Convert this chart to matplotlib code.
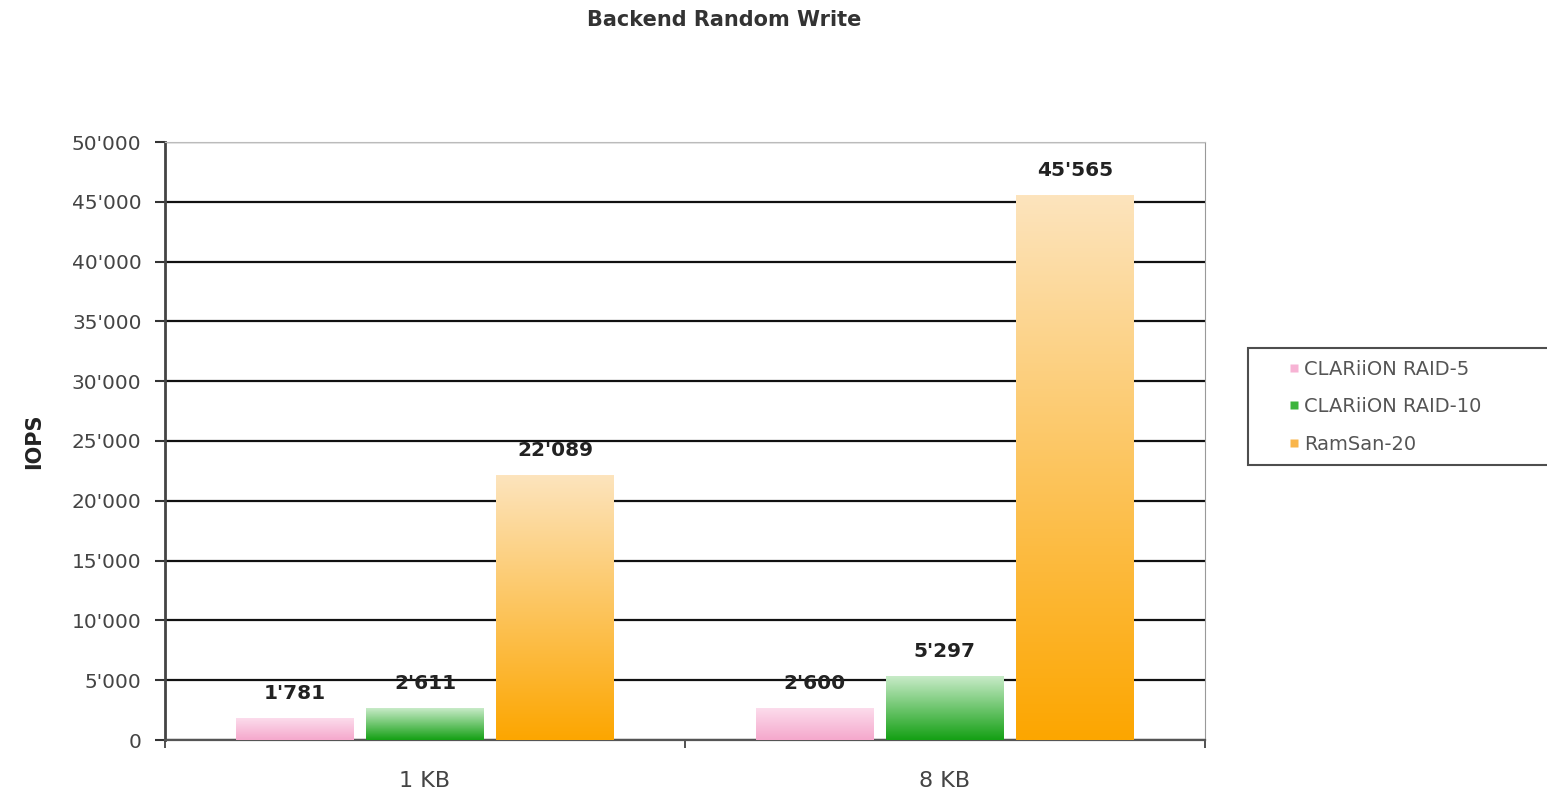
import numpy as np
import matplotlib
matplotlib.use("Agg")
import matplotlib.pyplot as plt
from matplotlib.colors import LinearSegmentedColormap
from matplotlib.lines import Line2D
from matplotlib.ticker import FuncFormatter

categories = ["1 KB", "8 KB"]
series = ["CLARiiON RAID-5", "CLARiiON RAID-10", "RamSan-20"]
raid5 = [1781, 2600]
raid10 = [2611, 5297]
ramsan = [22089, 45565]

# (top colour, bottom colour) of each bar gradient
grads = [("#fcdcec", "#f5a8cc"), ("#c8ebc8", "#14a014"), ("#fde4bd", "#fca600")]
legend_cols = ["#f7b3d4", "#3cb43c", "#f9b54a"]


def fmt(v, pos=None):
    return f"{int(v):,}".replace(",", "'")


fig = plt.figure(figsize=(15.47, 8), dpi=100)
ax = fig.add_axes([0.1067, 0.075, 0.672, 0.7475])

x = np.arange(len(categories))
width = 0.227
step = 0.25
values = [raid5, raid10, ramsan]

for i, vals in enumerate(values):
    xs = x + (i - 1) * step
    cmap = LinearSegmentedColormap.from_list("g%d" % i, [grads[i][1], grads[i][0]])
    bars = ax.bar(xs, vals, width, color=legend_cols[i], zorder=2)
    for b, v in zip(bars, vals):
        x0 = b.get_x()
        grad = np.linspace(0, 1, 256).reshape(-1, 1)
        ax.imshow(grad, extent=[x0, x0 + width, 0, v], origin="lower",
                  aspect="auto", cmap=cmap, zorder=3)
        ax.annotate(fmt(v), (x0 + width / 2, v), xytext=(0, 18),
                    textcoords="offset points", ha="center", va="center",
                    fontsize=14.5, fontweight="bold", color="#222222", zorder=4)

ax.set_xlim(-0.5, 1.5)
ax.set_ylim(0, 50000)
ax.set_yticks(np.arange(0, 50001, 5000))
ax.yaxis.set_major_formatter(FuncFormatter(fmt))
ax.set_xticks(x)
ax.set_xticklabels(categories, fontsize=16, color="#444444")
ax.set_xticks([-0.5, 0.5, 1.5], minor=True)
ax.tick_params(axis="x", which="major", length=0, pad=22)
ax.tick_params(axis="x", which="minor", length=6, width=1.2, color="#333333")
ax.tick_params(axis="y", length=7, width=1.5, color="#333333",
               labelsize=14.5, labelcolor="#444444", pad=10)

ax.grid(axis="y", color="#111111", linewidth=1.6, zorder=1)
ax.set_axisbelow(True)
ax.spines["left"].set_color("#444444")
ax.spines["left"].set_linewidth(2)
ax.spines["bottom"].set_color("#555555")
ax.spines["bottom"].set_linewidth(1.6)
ax.spines["right"].set_color("#999999")
ax.spines["top"].set_color("#bbbbbb")

ax.set_ylabel("IOPS", fontsize=15, fontweight="bold", color="#222222", labelpad=20)
fig.suptitle("Backend Random Write", x=0.468, y=0.988, fontsize=15,
             fontweight="bold", color="#333333")

handles = [Line2D([], [], linestyle="none", marker="s", markersize=6,
                  markerfacecolor=c, markeredgecolor="none") for c in legend_cols]
leg = fig.legend(handles, series, loc="upper left",
                 bbox_to_anchor=(1248 / 1547, 1 - 348 / 800 - 0.01, 330 / 1547, 0.01),
                 mode="expand", fontsize=14, frameon=True, fancybox=False,
                 edgecolor="#222222", handlelength=3.5, handletextpad=-1.2,
                 labelspacing=0.95, borderpad=0.6, borderaxespad=0)
leg.get_frame().set_linewidth(1.5)
for t in leg.get_texts():
    t.set_color("#555555")

fig.savefig("out.png", dpi=100)
